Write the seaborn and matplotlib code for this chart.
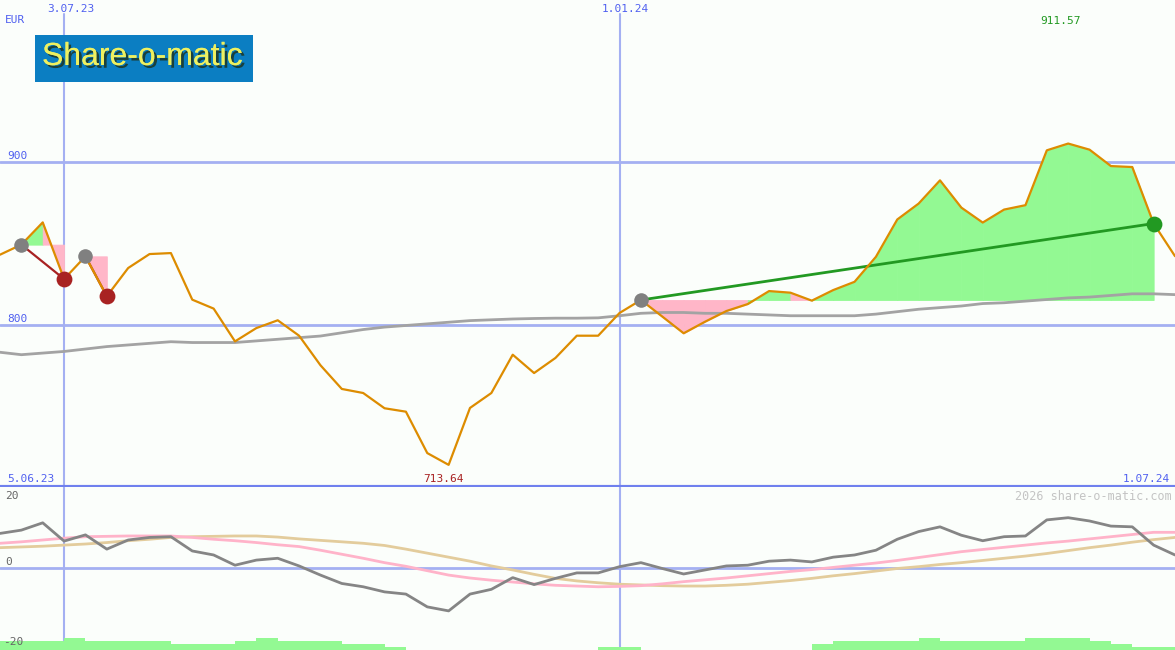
import matplotlib
matplotlib.use("Agg")
import matplotlib.pyplot as plt
import matplotlib.patheffects as pe
import numpy as np
import pandas as pd
import seaborn as sns
from matplotlib.patches import Rectangle

# weekly closing prices (EUR), 5.06.23 .. 1.07.24
price = [843.1, 849.3, 863.0, 828.1, 842.1, 817.5, 834.9, 843.5, 844.1, 815.4,
         809.9, 789.7, 797.9, 802.7, 793.2, 775.0, 760.4, 757.9, 748.5, 746.4,
         720.9, 713.64, 748.7, 757.9, 781.5, 770.2, 779.5, 793.2, 793.2, 807.2,
         815.2, 805.0, 794.7, 801.8, 808.4, 812.7, 820.7, 819.7, 814.8, 821.3,
         826.4, 841.8, 864.8, 874.6, 888.9, 872.1, 862.9, 870.9, 873.6, 907.4,
         911.57, 907.8, 897.7, 897.1, 862.3, 842.2]
# long moving average
ma_long = [783.0, 781.5, 782.5, 783.5, 785.0, 786.5, 787.5, 788.5, 789.5, 789.0,
           789.0, 789.0, 790.0, 791.0, 792.0, 793.0, 795.0, 797.0, 798.5, 799.5,
           800.5, 801.5, 802.5, 803.0, 803.5, 803.8, 804.0, 804.0, 804.2, 805.5,
           807.0, 807.5, 807.5, 807.0, 807.0, 806.5, 806.0, 805.5, 805.5, 805.5,
           805.5, 806.5, 808.0, 809.5, 810.5, 811.5, 813.0, 813.5, 814.5, 815.5,
           816.5, 817.0, 818.0, 819.0, 819.0, 818.5]
# lower panel indicators
momentum = [9.4, 10.3, 12.3, 7.3, 9.0, 5.1, 7.6, 8.3, 8.5, 4.6,
            3.5, 0.7, 2.1, 2.6, 0.5, -2.0, -4.3, -5.2, -6.6, -7.2,
            -10.7, -11.8, -7.2, -5.9, -2.7, -4.6, -2.9, -1.4, -1.4, 0.3,
            1.4, -0.2, -1.7, -0.6, 0.5, 0.7, 1.8, 2.1, 1.6, 2.9,
            3.5, 4.8, 7.8, 9.9, 11.2, 8.9, 7.4, 8.5, 8.7, 13.1,
            13.7, 12.8, 11.4, 11.2, 6.2, 3.5]
sig_pink = [6.7, 7.1, 7.6, 8.1, 8.5, 8.6, 8.7, 8.7, 8.7, 8.3,
            7.8, 7.4, 6.9, 6.3, 5.8, 4.8, 3.7, 2.6, 1.4, 0.4,
            -0.8, -2.0, -2.8, -3.4, -3.9, -4.4, -4.8, -5.0, -5.2, -5.1,
            -4.9, -4.4, -3.8, -3.3, -2.8, -2.2, -1.6, -1.0, -0.5, 0.1,
            0.7, 1.3, 2.0, 2.8, 3.6, 4.4, 5.0, 5.6, 6.2, 6.8,
            7.3, 7.9, 8.5, 9.1, 9.7, 9.7]
sig_tan = [5.5, 5.7, 5.9, 6.2, 6.5, 6.9, 7.4, 7.8, 8.3, 8.5,
           8.6, 8.7, 8.7, 8.4, 7.9, 7.5, 7.1, 6.7, 6.1, 5.1,
           4.0, 2.9, 1.8, 0.5, -0.6, -1.8, -2.9, -3.6, -4.1, -4.5,
           -4.7, -4.9, -5.0, -5.0, -4.8, -4.5, -4.0, -3.5, -2.9, -2.2,
           -1.6, -0.9, -0.2, 0.3, 0.9, 1.4, 2.0, 2.6, 3.2, 3.9,
           4.7, 5.5, 6.2, 7.0, 7.7, 8.3]
# volume bars (height above panel floor)
volume = [2.5, 2.5, 2.5, 3.4, 2.5, 2.5, 2.5, 2.5, 1.6, 1.6,
          1.6, 2.5, 3.4, 2.5, 2.5, 2.5, 1.6, 1.6, 0.8, 0,
          0, 0, 0, 0, 0, 0, 0, 0, 0.8, 0.8,
          0, 0, 0, 0, 0, 0, 0, 0, 1.6, 2.5,
          2.5, 2.5, 2.5, 3.4, 2.5, 2.5, 2.5, 2.5, 3.4, 3.4,
          3.4, 2.5, 1.6, 0.8, 0.8]
# trades: (entry idx, exit idx, colour of exit marker)
trades = [(1, 3, "#a82222"), (4, 5, "#a82222"), (30, 54, "#229922")]
date_labels = ["5.06.23", "3.07.23", "1.01.24", "1.07.24"]
month_lines = [3, 29]

W, H = 1175, 650
BG = "#fbfefb"
BLUE_TXT = "#5060f0"
GRID = "#a4b0f2"

df = pd.DataFrame({"week": np.arange(len(price)), "price": price, "ma": ma_long,
                   "mom": momentum, "pink": sig_pink, "tan": sig_tan})

sns.set_style("white")
plt.rcParams["font.family"] = ["DejaVu Sans Mono"]

fig = plt.figure(figsize=(W / 100, H / 100), dpi=100, facecolor=BG)
ax = fig.add_axes([0, 163 / H, 1, 487 / H], facecolor=BG)
ax2 = fig.add_axes([0, 0, 1, 163 / H], facecolor=BG)

for a in (ax, ax2):
    a.set_xlim(0, len(price) - 1)
    for s in a.spines.values():
        s.set_visible(False)
    a.set_xticks([])
    a.set_yticks([])

ax.set_ylim(700, 1000)
ax2.set_ylim(-22.5, 22.1)

# grid
for lv in (800, 900):
    ax.axhline(lv, color=GRID, lw=2, zorder=1)
ax2.axhline(0, color=GRID, lw=2, zorder=1)
for m in month_lines:
    ax.axvline(m, ymax=1 - 14 / 487, color=GRID, lw=1.5, zorder=1)
    ax2.axvline(m, color=GRID, lw=1.5, zorder=1)
ax.axhline(700, color="#6f80ee", lw=3, zorder=6)

x = df["week"].to_numpy()
p = np.array(price)

# trade shading
for i0, i1, col in trades:
    lvl = p[i0]
    for i in range(i0, i1):
        c = "#93f993" if p[i + 1] > lvl else "#ffb6c8"
        ax.fill_between(x[i:i + 2], lvl, p[i:i + 2], facecolor=c, edgecolor=c,
                        lw=0.6, zorder=2)

sns.lineplot(data=df, x="week", y="ma", ax=ax, color="#a3a3a3", lw=2, zorder=3)
for i0, i1, col in trades:
    ax.plot([x[i0], x[i1]], [p[i0], p[i1]], color=col, lw=1.6 if i1 - i0 < 5 else 2, zorder=4)
sns.lineplot(data=df, x="week", y="price", ax=ax, color="#dd8c00", lw=1.6, zorder=5)
for i0, i1, col in trades:
    ax.scatter([x[i0]], [p[i0]], s=110, color="#808080", zorder=6, lw=0)
    ax.scatter([x[i1]], [p[i1]], s=130, color=col, zorder=6, lw=0)

# lower panel
ax2.bar(x[:-1], volume, width=1, align="edge", bottom=-22.5, color="#93f993", lw=0, zorder=2)
sns.lineplot(data=df, x="week", y="tan", ax=ax2, color="#e3cc9c", lw=2, zorder=3)
sns.lineplot(data=df, x="week", y="pink", ax=ax2, color="#ffb3c9", lw=2, zorder=3)
sns.lineplot(data=df, x="week", y="mom", ax=ax2, color="#858585", lw=2, zorder=4)
for a in (ax, ax2):
    a.set_xlabel("")
    a.set_ylabel("")

def txt(px, py, s, color=BLUE_TXT, ha="left", size=8):
    fig.text(px / W, 1 - py / H, s, color=color, ha=ha, va="center", fontsize=size)

txt(5, 20, "EUR")
txt(47, 9, date_labels[1])
txt(602, 9, date_labels[2])
txt(1040, 21, "911.57", color="#229922")
txt(7, 156, "900")
txt(7, 319, "800")
txt(7, 479, date_labels[0])
txt(423, 479, "713.64", color="#a82222")
txt(1170, 479, date_labels[3], ha="right")
txt(5, 496, "20", color="#666666")
txt(5, 562, "0", color="#666666")
txt(3, 642, "-20", color="#666666")
txt(1172, 496, "2026 share-o-matic.com", color="#c4c4c4", ha="right", size=8.5)

# logo
fig.patches.append(Rectangle((35 / W, 1 - 82 / H), 218 / W, 47 / H, transform=fig.transFigure,
                             facecolor="#0b7ec2", edgecolor="none", zorder=10))
fig.text(42 / W, 1 - 57 / H, "Share-o-matic", color="#eef060", fontsize=23,
         family="Liberation Sans", va="center", zorder=12,
         path_effects=[pe.withSimplePatchShadow(offset=(2, -2), shadow_rgbFace="#1c3a2c", alpha=0.9),
                       pe.Normal()])

fig.savefig("out.png", dpi=100, facecolor=BG)
